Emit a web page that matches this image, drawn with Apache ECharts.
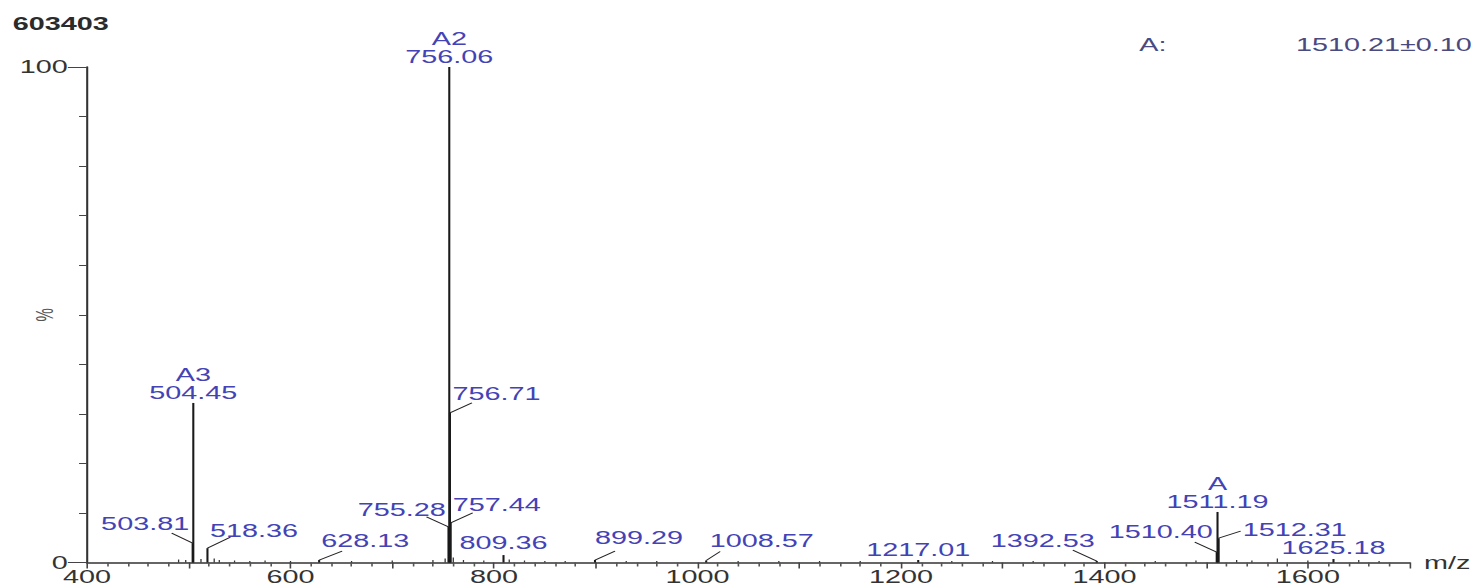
<!DOCTYPE html>
<html>
<head>
<meta charset="utf-8">
<script src="https://cdn.jsdelivr.net/npm/echarts@6/dist/echarts.min.js"></script>
<style>
html,body{margin:0;padding:0;background:#fff;overflow:hidden;width:1478px;height:587px;}
#wrap{width:1478px;height:587px;overflow:hidden;position:relative;}
#chart{width:924px;height:587px;transform:scaleX(1.6);transform-origin:0 0;}
</style>
</head>
<body>
<div id="wrap"><div id="chart"></div></div>
<script>
// ---- data ----
const sampleId = '603403';
const massResultLabel = 'A:';
const massResultValue = '1510.21\u00b10.10';
const xTickLabels = [400, 600, 800, 1000, 1200, 1400, 1600];
const yTickLabels = [0, 100];

const peakMz = [503.81, 504.45, 518.36, 628.13, 755.28, 756.06, 756.71, 757.44, 809.36, 899.29, 1008.57, 1217.01, 1392.53, 1510.40, 1511.19, 1512.31, 1625.18];
const peakIntensity = [3.9, 32.2, 2.9, 0.5, 7.2, 100, 30.2, 8.0, 1.5, 0.5, 0.4, 0.5, 0.3, 2.1, 10.2, 4.9, 0.7];
const peakLabels = ['503.81', 'A3\n504.45', '518.36', '628.13', '755.28', 'A2\n756.06', '756.71', '757.44', '809.36', '899.29', '1008.57', '1217.01', '1392.53', '1510.40', 'A\n1511.19', '1512.31', '1625.18'];

const noiseMz = [490, 497, 512, 525, 530, 545, 560, 575, 600, 660, 700, 740, 752, 760, 770, 790, 815, 830, 850, 870, 930, 960, 1040, 1080, 1120, 1160, 1250, 1290, 1330, 1450, 1490, 1530, 1545, 1570, 1600, 1650, 1670];
const noiseIntensity = [0.6, 0.5, 0.7, 0.8, 0.5, 0.4, 0.3, 0.4, 0.3, 0.3, 0.4, 0.5, 0.8, 1.0, 0.5, 0.4, 0.6, 0.4, 0.3, 0.3, 0.3, 0.3, 0.3, 0.3, 0.3, 0.3, 0.3, 0.3, 0.3, 0.3, 0.4, 0.5, 0.4, 0.8, 0.4, 0.5, 0.3];

// ---- label layout (pixels in the reference, relative to the peak top) ----
const S = 1.6; // horizontal stretch of the page
const labelLayout = [
  {lx:-21, ly:-10, tx:-3.5, ty:-20, align:'right', va:'middle'},
  {tx:0, ty:-1, align:'center', va:'bottom'},
  {lx:23, ly:-11, tx:2.5, ty:-18, align:'left', va:'middle'},
  {lx:23, ly:-9, tx:2, ty:-19, align:'left', va:'middle'},
  {lx:-22, ly:-10, tx:-2.7, ty:-17, align:'right', va:'middle'},
  {tx:0, ty:-1, align:'center', va:'bottom'},
  {lx:22, ly:-10, tx:2.6, ty:-19, align:'left', va:'middle'},
  {lx:22, ly:-10, tx:2, ty:-18, align:'left', va:'middle'},
  {tx:0, ty:-12, align:'center', va:'middle'},
  {lx:20, ly:-9, tx:0, ty:-22, align:'left', va:'middle'},
  {lx:14, ly:-9, tx:3.5, ty:-19.5, align:'left', va:'middle'},
  {tx:0, ty:-10, align:'center', va:'middle'},
  {lx:-24, ly:-11, tx:-2, ty:-20, align:'right', va:'middle'},
  {lx:-22, ly:-10, tx:-4, ty:-20, align:'right', va:'middle'},
  {tx:0, ty:-1, align:'center', va:'bottom'},
  {lx:22, ly:-7, tx:24, ty:-9, align:'left', va:'middle'},
  {tx:0, ty:-11, align:'center', va:'middle'}
];

const FONT = '"Liberation Sans", Arial, sans-serif';
const LABEL_COLOR = '#4343b6';
const AXIS_TEXT = '#333333';

const chart = echarts.init(document.getElementById('chart'), null, {renderer: 'svg'});

const peakData = peakMz.map((m, i) => [m, peakIntensity[i]]);
const noiseData = noiseMz.map((m, i) => [m, noiseIntensity[i]]);

function stick(api, color, width) {
  const top = api.coord([api.value(0), api.value(1)]);
  const base = api.coord([api.value(0), 0]);
  return {top, el: {type: 'line', shape: {x1: base[0], y1: base[1], x2: top[0], y2: top[1]}, style: {stroke: color, lineWidth: width}}};
}

const option = {
  animation: false,
  backgroundColor: '#ffffff',
  grid: {left: 54.4, right: 43, top: 67, bottom: 24.5, containLabel: false, outerBoundsMode: 'none'},
  title: [
    {text: sampleId, left: 3, top: 10, textStyle: {fontFamily: FONT, fontSize: 18, fontWeight: 'bold', color: '#2b2b2b'}},
    {text: massResultLabel, left: 707, top: 31, textStyle: {fontFamily: FONT, fontSize: 18, fontWeight: 'normal', color: '#4a4a80'}},
    {text: massResultValue, left: 805, top: 31, textStyle: {fontFamily: FONT, fontSize: 18, fontWeight: 'normal', color: '#4a4a80'}}
  ],
  xAxis: {
    type: 'value', min: 400, max: 1700, interval: 100,
    name: 'm/z', nameLocation: 'end', nameGap: 9,
    nameTextStyle: {fontFamily: FONT, fontSize: 18, color: AXIS_TEXT, verticalAlign: 'middle'},
    axisLine: {show: true, onZero: false, lineStyle: {color: '#333', width: 1.6}},
    axisTick: {show: true, length: 6, lineStyle: {color: '#444', width: 1}},
    minorTick: {show: true, splitNumber: 5, length: 4, lineStyle: {color: '#555', width: 1}},
    splitLine: {show: false},
    axisLabel: {
      fontFamily: FONT, fontSize: 18, color: AXIS_TEXT, margin: 5,
      showMaxLabel: false,
      formatter: v => xTickLabels.indexOf(v) >= 0 ? String(v) : ''
    }
  },
  yAxis: [
    {
      type: 'value', min: 0, max: 100, interval: 10, position: 'left',
      name: '%', nameLocation: 'middle', nameGap: 19, nameRotate: 90, nameMoveOverlap: false,
      nameTextStyle: {fontFamily: FONT, fontSize: 15, color: '#555'},
      axisLine: {show: true, lineStyle: {color: '#333', width: 1.3}},
      axisTick: {show: true, length: 5, lineStyle: {color: '#444', width: 1}},
      splitLine: {show: false},
      axisLabel: {
        fontFamily: FONT, fontSize: 18, color: AXIS_TEXT, margin: 12,
        formatter: v => yTickLabels.indexOf(v) >= 0 ? String(v) : ''
      }
    },
    {
      type: 'value', min: 0, max: 100, interval: 100, position: 'left',
      axisLine: {show: false},
      axisTick: {show: true, length: 12, lineStyle: {color: '#444', width: 1}},
      axisLabel: {show: false},
      splitLine: {show: false}
    }
  ],
  series: [
    {
      type: 'custom',
      name: 'noise',
      data: noiseData,
      encode: {x: 0, y: 1},
      silent: true,
      renderItem: (params, api) => stick(api, '#333', 0.8).el
    },
    {
      type: 'custom',
      name: 'peaks',
      data: peakData,
      encode: {x: 0, y: 1},
      clip: false,
      z: 3,
      renderItem: (params, api) => {
        const i = params.dataIndex;
        const L = labelLayout[i];
        const s = stick(api, '#1a1a1a', 1.3);
        const top = s.top;
        const children = [s.el];
        if (L.lx !== undefined) {
          children.push({type: 'line', shape: {x1: top[0], y1: top[1], x2: top[0] + L.lx / S, y2: top[1] + L.ly},
            style: {stroke: '#222', lineWidth: 0.9}});
        }
        children.push({type: 'text', x: top[0] + L.tx / S, y: top[1] + L.ty,
          style: {text: peakLabels[i], fill: LABEL_COLOR, fontFamily: FONT, fontSize: 18, lineHeight: 18,
            align: L.align, verticalAlign: L.va}});
        return {type: 'group', children};
      }
    }
  ]
};
chart.setOption(option);
</script>
</body>
</html>
